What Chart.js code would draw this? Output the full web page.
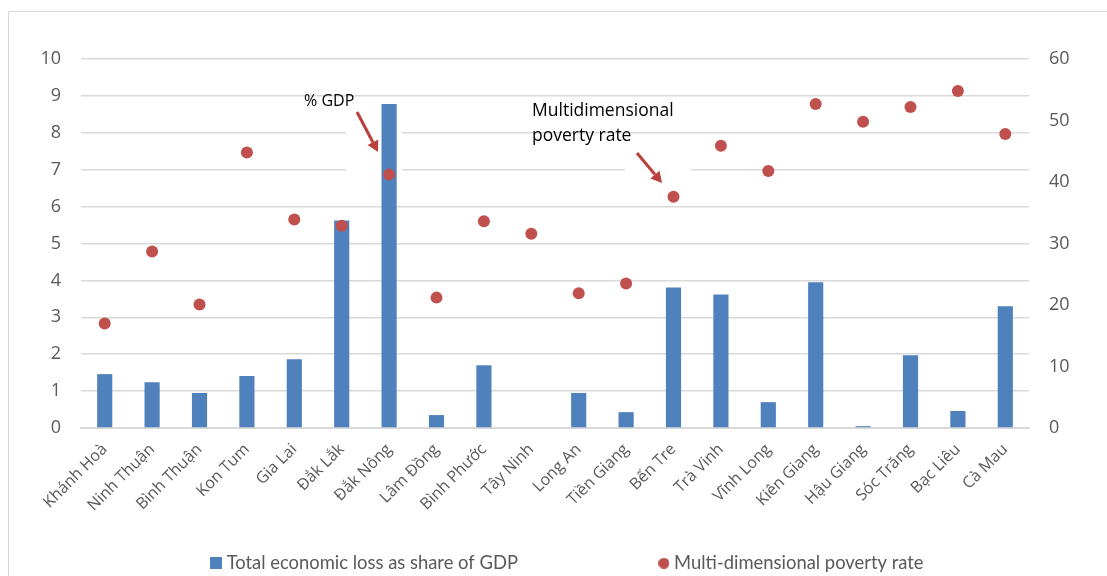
<!DOCTYPE html>
<html>
<head>
<meta charset="utf-8">
<script src="https://cdn.jsdelivr.net/npm/chart.js@4/dist/chart.umd.min.js"></script>
<style>
  html, body { margin: 0; padding: 0; background: #ffffff; }
  #wrap { position: relative; width: 1107px; height: 576px; overflow: hidden; }
  #frame { position: absolute; left: 8px; top: 11px; width: 1300px; height: 800px;
           border: 1px solid #d9d9d9; box-sizing: border-box; }
  #c { position: absolute; left: 0; top: 0; }
</style>
</head>
<body>
<div id="wrap">
  <div id="frame"></div>
  <canvas id="c" width="1107" height="576"></canvas>
</div>
<script>
// Provinces along the x axis
const provinces = [
  'Khánh Hoà', 'Ninh Thuận', 'Bình Thuận', 'Kon Tum', 'Gia Lai', 'Đắk Lắk',
  'Đắk Nông', 'Lâm Đồng', 'Bình Phước', 'Tây Ninh', 'Long An', 'Tiền Giang',
  'Bến Tre', 'Trà Vinh', 'Vĩnh Long', 'Kiên Giang', 'Hậu Giang', 'Sóc Trăng',
  'Bạc Liêu', 'Cà Mau'
];

// Total economic loss as share of GDP (%), left axis
const lossShareGDP = [
  1.46, 1.24, 0.95, 1.41, 1.86, 5.62,
  8.78, 0.35, 1.70, 0.00, 0.95, 0.43,
  3.81, 3.62, 0.70, 3.95, 0.05, 1.97,
  0.46, 3.30
];

// Multi-dimensional poverty rate (%), right axis
const povertyRate = [
  17.0, 28.7, 20.1, 44.8, 33.9, 32.9,
  41.2, 21.2, 33.6, 31.6, 21.9, 23.5,
  37.6, 45.9, 41.8, 52.7, 49.8, 52.2,
  54.8, 47.8
];

// Axis tick ranges
const leftTicks = { min: 0, max: 10, step: 1 };
const rightTicks = { min: 0, max: 60, step: 10 };

const seriesNames = ['Total economic loss as share of GDP', 'Multi-dimensional poverty rate'];

const BLUE = '#4f81bd';
const RED = '#c0504d';
const ARROW = '#b9403d';
const TICK_COLOR = '#595959';
const GRID = '#d9d9d9';

// Small legend markers
function makeMarker(kind, color, size) {
  const cv = document.createElement('canvas');
  cv.width = size; cv.height = size;
  const g = cv.getContext('2d');
  g.fillStyle = color;
  if (kind === 'rect') {
    g.fillRect(0, 0, size, size);
  } else {
    g.beginPath();
    g.arc(size / 2, size / 2, size / 2, 0, Math.PI * 2);
    g.fill();
  }
  return cv;
}
const markerBar = makeMarker('rect', BLUE, 12);
const markerDot = makeMarker('circle', RED, 11);

// Callout boxes and arrows
function drawArrow(ctx, x1, y1, x2, y2) {
  const ang = Math.atan2(y2 - y1, x2 - x1);
  const head = 11, wing = 6;
  const bx = x2 - head * Math.cos(ang), by = y2 - head * Math.sin(ang);
  ctx.save();
  ctx.strokeStyle = ARROW;
  ctx.fillStyle = ARROW;
  ctx.lineWidth = 3;
  ctx.beginPath();
  ctx.moveTo(x1, y1);
  ctx.lineTo(bx, by);
  ctx.stroke();
  ctx.beginPath();
  ctx.moveTo(x2, y2);
  ctx.lineTo(bx + wing * Math.sin(ang), by - wing * Math.cos(ang));
  ctx.lineTo(bx - wing * Math.sin(ang), by + wing * Math.cos(ang));
  ctx.closePath();
  ctx.fill();
  ctx.restore();
}

const callouts = {
  id: 'callouts',
  beforeDatasetsDraw(chart) {
    const ctx = chart.ctx;
    ctx.save();
    ctx.fillStyle = '#ffffff';
    ctx.fillRect(346, 108, 56, 64);
    ctx.fillRect(625, 142, 66, 62);
    ctx.restore();
  },
  afterDatasetsDraw(chart) {
    const ctx = chart.ctx;
    ctx.save();
    ctx.fillStyle = '#000000';
    ctx.textBaseline = 'middle';
    ctx.textAlign = 'left';
    ctx.font = '16px "Open Sans"';
    ctx.fillText('% GDP', 304, 101);
    ctx.font = '17.5px "Open Sans"';
    ctx.fillText('Multidimensional', 532, 111);
    ctx.fillText('poverty rate', 532, 136);
    ctx.restore();
    drawArrow(ctx, 357, 112, 378, 152);
    drawArrow(ctx, 637, 153, 662, 183);
  }
};

// Place the legend row
const legendPlace = {
  id: 'legendPlace',
  afterUpdate(chart) {
    const lg = chart.legend;
    const pad = lg.options.labels.padding;
    const shift = 16;
    lg.left += shift; lg.right += shift;
    lg.top = 554 - pad;
    lg.bottom = chart.height;
  }
};

new Chart(document.getElementById('c'), {
  data: {
    labels: provinces,
    datasets: [
      {
        type: 'line',
        label: seriesNames[1],
        data: povertyRate,
        yAxisID: 'y1',
        showLine: false,
        pointRadius: 6,
        pointHoverRadius: 6,
        pointBackgroundColor: RED,
        pointBorderColor: RED,
        pointBorderWidth: 0,
        backgroundColor: RED,
        borderColor: RED,
        order: 1
      },
      {
        type: 'bar',
        label: seriesNames[0],
        data: lossShareGDP,
        yAxisID: 'y',
        backgroundColor: BLUE,
        borderWidth: 0,
        barPercentage: 0.32,
        categoryPercentage: 1.0,
        order: 2
      }
    ]
  },
  options: {
    responsive: false,
    animation: false,
    layout: { padding: { top: 59, left: 0, right: 0, bottom: 0 } },
    plugins: {
      tooltip: { enabled: false },
      legend: {
        position: 'bottom',
        maxHeight: 40,
        labels: {
          usePointStyle: true,
          boxWidth: 2,
          boxHeight: 2,
          padding: 145,
          color: TICK_COLOR,
          font: { family: 'Lato', size: 18.4 },
          generateLabels() {
            return [
              { text: seriesNames[0], pointStyle: markerBar, fillStyle: BLUE, strokeStyle: BLUE, lineWidth: 0, datasetIndex: 1, hidden: false, fontColor: TICK_COLOR },
              { text: seriesNames[1], pointStyle: markerDot, fillStyle: RED, strokeStyle: RED, lineWidth: 0, datasetIndex: 0, hidden: false, fontColor: TICK_COLOR }
            ];
          }
        }
      }
    },
    scales: {
      x: {
        offset: true,
        grid: { display: false, drawTicks: false },
        border: { display: true, color: GRID, width: 2 },
        ticks: {
          color: TICK_COLOR,
          font: { family: 'Open Sans', size: 16 },
          maxRotation: 45,
          minRotation: 45,
          autoSkip: false,
          padding: 12
        },
        afterFit(s) { s.height = 108; }
      },
      y: {
        position: 'left',
        min: leftTicks.min,
        max: leftTicks.max,
        grid: { color: GRID, lineWidth: 1.5, drawTicks: false },
        border: { display: false },
        ticks: {
          stepSize: leftTicks.step,
          color: TICK_COLOR,
          font: { family: 'Open Sans', size: 18 },
          padding: 20
        },
        afterFit(s) { s.width = 81; }
      },
      y1: {
        position: 'right',
        min: rightTicks.min,
        max: rightTicks.max,
        grid: { display: false, drawTicks: false },
        border: { display: false },
        ticks: {
          stepSize: rightTicks.step,
          color: TICK_COLOR,
          font: { family: 'Open Sans', size: 18 },
          padding: 20
        },
        afterFit(s) { s.width = 78; }
      }
    }
  },
  plugins: [callouts, legendPlace]
});
</script>
</body>
</html>
